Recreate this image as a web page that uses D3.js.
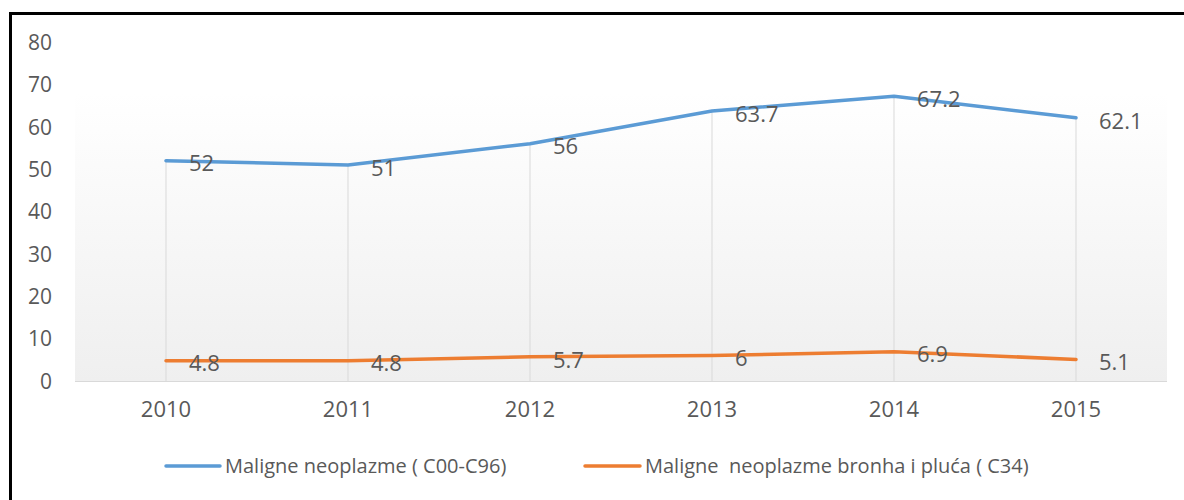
<!DOCTYPE html>
<html>
<head>
<meta charset="utf-8">
<script src="https://cdn.jsdelivr.net/npm/d3@7"></script>
<style>
  html, body { margin: 0; padding: 0; background: #fff; }
  svg { display: block; }
  text { font-family: "Open Sans", "Liberation Sans", Arial, sans-serif; fill: #595959; }
</style>
</head>
<body>
<svg id="chart" width="1184" height="500"></svg>
<script>
const categories = ["2010", "2011", "2012", "2013", "2014", "2015"];
const seriesNames = ["Maligne neoplazme ( C00-C96)", "Maligne  neoplazme bronha i pluća ( C34)"];
const seriesAll = [52, 51, 56, 63.7, 67.2, 62.1];
const seriesLung = [4.8, 4.8, 5.7, 6, 6.9, 5.1];
const yTicks = [0, 10, 20, 30, 40, 50, 60, 70, 80];
const colors = ["#5B9BD5", "#ED7D31"];

const FONT = "Open Sans, Liberation Sans, Arial, sans-serif";
const svg = d3.select("#chart");
const plot = { left: 75, right: 1167, top: 42, bottom: 381 };

const x = d3.scaleBand().domain(categories).range([plot.left, plot.right]).padding(0);
const cx = d => x(d) + x.bandwidth() / 2;
const y = d3.scaleLinear().domain([0, 80]).range([plot.bottom, plot.top]);

// gradient background
const defs = svg.append("defs");
const grad = defs.append("linearGradient").attr("id", "bg").attr("x1", 0).attr("y1", 0).attr("x2", 0).attr("y2", 1);
grad.append("stop").attr("offset", "0%").attr("stop-color", "#ffffff");
grad.append("stop").attr("offset", "15%").attr("stop-color", "#ffffff");
grad.append("stop").attr("offset", "100%").attr("stop-color", "#efefef");

svg.append("rect")
  .attr("x", plot.left).attr("y", plot.top)
  .attr("width", plot.right - plot.left).attr("height", plot.bottom - plot.top)
  .attr("fill", "url(#bg)");

// drop lines
const seriesData = [seriesAll, seriesLung];
svg.append("g").selectAll("line").data(categories).join("line")
  .attr("x1", d => cx(d)).attr("x2", d => cx(d))
  .attr("y1", (d, i) => y(d3.max(seriesData, s => s[i])))
  .attr("y2", plot.bottom)
  .attr("stroke", "#d9d9d9").attr("stroke-width", 1);

// x axis line
svg.append("line")
  .attr("x1", plot.left).attr("x2", plot.right)
  .attr("y1", plot.bottom + 0.5).attr("y2", plot.bottom + 0.5)
  .attr("stroke", "#d9d9d9").attr("stroke-width", 1);

// y axis labels
const yAxis = d3.axisLeft(y).tickValues(yTicks).tickSize(0).tickPadding(0);
const gy = svg.append("g").attr("transform", "translate(52,0)").call(yAxis);
gy.select(".domain").remove();
gy.selectAll("text").attr("font-size", 21).attr("fill", "#595959")
  .attr("font-family", FONT).attr("dy", "0.35em");

// x axis labels
const xAxis = d3.axisBottom(x).tickSize(0).tickPadding(0);
const gx = svg.append("g").attr("transform", "translate(0,401)").call(xAxis);
gx.select(".domain").remove();
gx.selectAll("text").attr("font-size", 22).attr("fill", "#595959")
  .attr("font-family", FONT).attr("dy", "0.71em");

// lines
const line = d3.line().x((d, i) => cx(categories[i])).y(d => y(d)).curve(d3.curveLinear);
seriesData.forEach((s, k) => {
  svg.append("path").datum(s)
    .attr("d", line)
    .attr("fill", "none")
    .attr("stroke", colors[k])
    .attr("stroke-width", 3.5)
    .attr("stroke-linecap", "round")
    .attr("stroke-linejoin", "round");
});

// data labels
seriesData.forEach((s, k) => {
  svg.append("g").selectAll("text").data(s).join("text")
    .attr("x", (d, i) => cx(categories[i]) + 23)
    .attr("y", d => y(d) + 3)
    .attr("dy", "0.35em")
    .attr("font-size", 22)
    .text(d => d);
});

// legend
const legendItems = [
  { x1: 166, x2: 220, tx: 225 },
  { x1: 585, x2: 640, tx: 645 }
];
legendItems.forEach((l, k) => {
  svg.append("line").attr("x1", l.x1).attr("x2", l.x2).attr("y1", 466).attr("y2", 466)
    .attr("stroke", colors[k]).attr("stroke-width", 3.5).attr("stroke-linecap", "round");
  svg.append("text").attr("x", l.tx).attr("y", 466).attr("dy", "0.35em")
    .attr("font-size", 20).style("white-space", "pre").attr("xml:space", "preserve")
    .text(seriesNames[k]);
});

// frame (partial border)
svg.append("line").attr("x1", 10).attr("x2", 1184).attr("y1", 13.5).attr("y2", 13.5)
  .attr("stroke", "#000").attr("stroke-width", 3);
svg.append("line").attr("x1", 10.5).attr("x2", 10.5).attr("y1", 12).attr("y2", 500)
  .attr("stroke", "#000").attr("stroke-width", 3);
</script>
</body>
</html>
